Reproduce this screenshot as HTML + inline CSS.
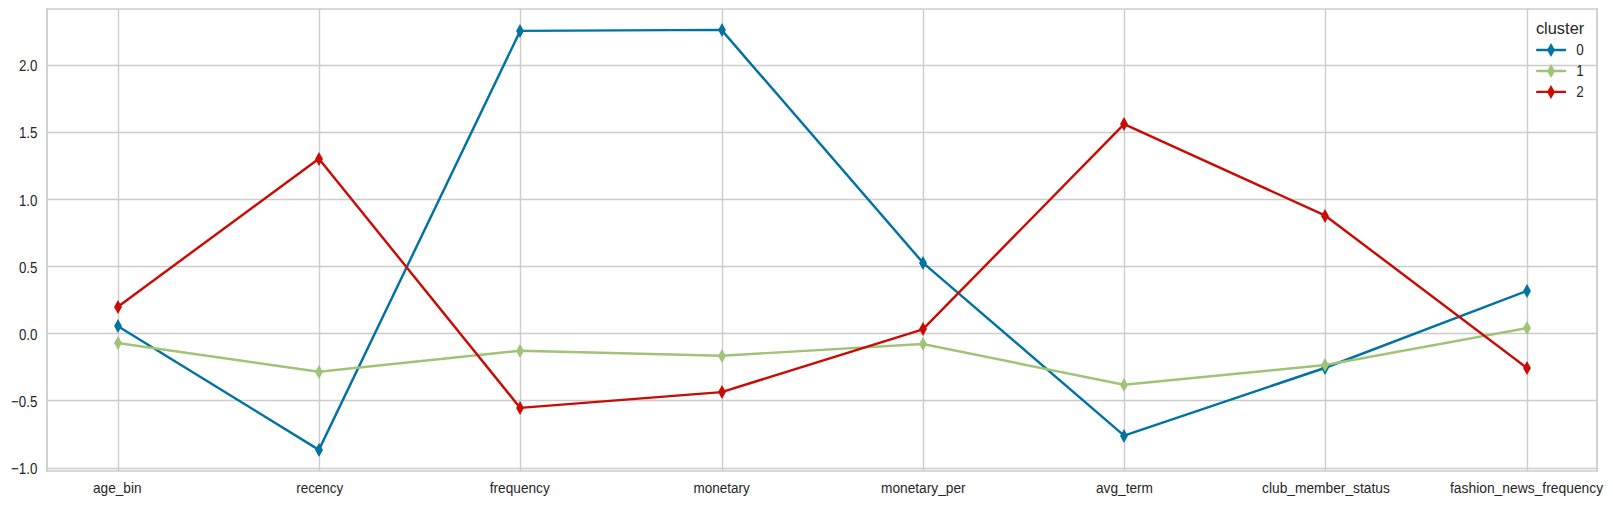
<!DOCTYPE html>
<html lang="en">
<head>
<meta charset="utf-8">
<title>cluster profile</title>
<style>
html,body{margin:0;padding:0;background:#fff;}
body{width:1613px;height:505px;overflow:hidden;}
svg{display:block;}
text{font-family:"Liberation Sans",Arial,sans-serif;fill:#262626;}
.t{font-size:13.89px;}
.lt{font-size:16.67px;}
.d{text-rendering:geometricPrecision;}
.g{stroke:#cccccc;stroke-width:1.39;fill:none;}
.s{stroke:#cccccc;stroke-width:1.74;fill:none;stroke-linecap:square;}
.ln{fill:none;stroke-width:2.43;stroke-linejoin:round;stroke-linecap:round;}
</style>
</head>
<body>
<svg width="1613" height="505" viewBox="0 0 1613 505">
<rect x="0" y="0" width="1613" height="505" fill="#ffffff"/>
<g class="g">
<line x1="118.5" y1="9" x2="118.5" y2="471"/>
<line x1="319.5" y1="9" x2="319.5" y2="471"/>
<line x1="520.5" y1="9" x2="520.5" y2="471"/>
<line x1="722.5" y1="9" x2="722.5" y2="471"/>
<line x1="923.5" y1="9" x2="923.5" y2="471"/>
<line x1="1124.5" y1="9" x2="1124.5" y2="471"/>
<line x1="1325.5" y1="9" x2="1325.5" y2="471"/>
<line x1="1527.5" y1="9" x2="1527.5" y2="471"/>
<line x1="47" y1="65.5" x2="1597" y2="65.5"/>
<line x1="47" y1="132.5" x2="1597" y2="132.5"/>
<line x1="47" y1="199.5" x2="1597" y2="199.5"/>
<line x1="47" y1="266.5" x2="1597" y2="266.5"/>
<line x1="47" y1="333.5" x2="1597" y2="333.5"/>
<line x1="47" y1="400.5" x2="1597" y2="400.5"/>
<line x1="47" y1="468.5" x2="1597" y2="468.5"/>
</g>
<polyline class="ln" stroke="#0272a2" points="117.60,326.00 318.90,449.87 520.20,30.90 721.50,29.90 922.79,262.55 1124.09,435.55 1325.39,367.75 1526.69,291.00"/>
<g fill="#0272a2">
<polygon points="118.00,319.10 121.95,326.00 118.00,332.90 114.05,326.00"/>
<polygon points="319.00,443.10 322.95,450.00 319.00,456.90 315.05,450.00"/>
<polygon points="520.00,24.10 523.95,31.00 520.00,37.90 516.05,31.00"/>
<polygon points="722.00,23.10 725.95,30.00 722.00,36.90 718.05,30.00"/>
<polygon points="923.00,256.10 926.95,263.00 923.00,269.90 919.05,263.00"/>
<polygon points="1124.00,429.10 1127.95,436.00 1124.00,442.90 1120.05,436.00"/>
<polygon points="1325.00,361.10 1328.95,368.00 1325.00,374.90 1321.05,368.00"/>
<polygon points="1527.00,284.10 1530.95,291.00 1527.00,297.90 1523.05,291.00"/>
</g>
<polyline class="ln" stroke="#9fc377" points="117.60,343.00 318.90,371.80 520.20,350.70 721.50,355.70 922.79,344.00 1124.09,384.80 1325.39,365.00 1526.69,328.10"/>
<g fill="#9fc377">
<polygon points="118.00,336.10 121.95,343.00 118.00,349.90 114.05,343.00"/>
<polygon points="319.00,365.10 322.95,372.00 319.00,378.90 315.05,372.00"/>
<polygon points="520.00,344.10 523.95,351.00 520.00,357.90 516.05,351.00"/>
<polygon points="722.00,349.10 725.95,356.00 722.00,362.90 718.05,356.00"/>
<polygon points="923.00,337.10 926.95,344.00 923.00,350.90 919.05,344.00"/>
<polygon points="1124.00,378.10 1127.95,385.00 1124.00,391.90 1120.05,385.00"/>
<polygon points="1325.00,358.10 1328.95,365.00 1325.00,371.90 1321.05,365.00"/>
<polygon points="1527.00,321.10 1530.95,328.00 1527.00,334.90 1523.05,328.00"/>
</g>
<polyline class="ln" stroke="#ca0b03" points="117.60,306.90 318.90,158.70 520.20,407.90 721.50,392.10 922.79,329.40 1124.09,124.15 1325.39,215.70 1526.69,367.80"/>
<g fill="#ca0b03">
<polygon points="118.00,300.10 121.95,307.00 118.00,313.90 114.05,307.00"/>
<polygon points="319.00,152.10 322.95,159.00 319.00,165.90 315.05,159.00"/>
<polygon points="520.00,401.10 523.95,408.00 520.00,414.90 516.05,408.00"/>
<polygon points="722.00,385.10 725.95,392.00 722.00,398.90 718.05,392.00"/>
<polygon points="923.00,322.10 926.95,329.00 923.00,335.90 919.05,329.00"/>
<polygon points="1124.00,117.10 1127.95,124.00 1124.00,130.90 1120.05,124.00"/>
<polygon points="1325.00,209.10 1328.95,216.00 1325.00,222.90 1321.05,216.00"/>
<polygon points="1527.00,361.10 1530.95,368.00 1527.00,374.90 1523.05,368.00"/>
</g>
<g class="s">
<line x1="47" y1="9" x2="47" y2="471"/>
<line x1="1597" y1="9" x2="1597" y2="471"/>
<line x1="47" y1="471" x2="1597" y2="471"/>
<line x1="47" y1="9" x2="1597" y2="9"/>
</g>
<g class="t d" text-anchor="end">
<text transform="translate(37.4,71) scale(0.96,1.14)">2.0</text>
<text transform="translate(37.4,138) scale(0.96,1.14)">1.5</text>
<text transform="translate(37.4,206) scale(0.96,1.14)">1.0</text>
<text transform="translate(37.4,273) scale(0.96,1.14)">0.5</text>
<text transform="translate(37.4,340) scale(0.96,1.14)">0.0</text>
<text transform="translate(37.4,407) scale(0.96,1.14)">−0.5</text>
<text transform="translate(37.4,474) scale(0.96,1.14)">−1.0</text>
</g>
<g class="t" text-anchor="middle">
<text transform="translate(117.25,493) scale(0.9855,1)">age_bin</text>
<text transform="translate(319.70,493) scale(0.9662,1)">recency</text>
<text transform="translate(519.75,493) scale(0.9851,1)">frequency</text>
<text transform="translate(721.70,493) scale(0.9716,1)">monetary</text>
<text transform="translate(923.30,493) scale(0.9882,1)">monetary_per</text>
<text transform="translate(1124.49,493) scale(0.9856,1)">avg_term</text>
<text transform="translate(1325.94,493) scale(0.9914,1)">club_member_status</text>
<text transform="translate(1526.54,493) scale(0.9980,1)">fashion_news_frequency</text>
</g>
<text class="lt" transform="translate(1535.9,34) scale(0.985,1)">cluster</text>
<line class="ln" stroke="#0272a2" x1="1537.2" y1="50.0" x2="1565.0" y2="50.0"/>
<polygon fill="#0272a2" points="1551.00,43.10 1554.95,50.00 1551.00,56.90 1547.05,50.00"/>
<text class="t d" transform="translate(1576.2,55) scale(0.97,1.14)">0</text>
<line class="ln" stroke="#9fc377" x1="1537.2" y1="70.95" x2="1565.0" y2="70.95"/>
<polygon fill="#9fc377" points="1551.00,64.10 1554.95,71.00 1551.00,77.90 1547.05,71.00"/>
<text class="t d" transform="translate(1576.2,76) scale(0.97,1.14)">1</text>
<line class="ln" stroke="#ca0b03" x1="1537.2" y1="91.9" x2="1565.0" y2="91.9"/>
<polygon fill="#ca0b03" points="1551.00,85.10 1554.95,92.00 1551.00,98.90 1547.05,92.00"/>
<text class="t d" transform="translate(1576.2,97) scale(0.97,1.14)">2</text>
</svg>
</body>
</html>
